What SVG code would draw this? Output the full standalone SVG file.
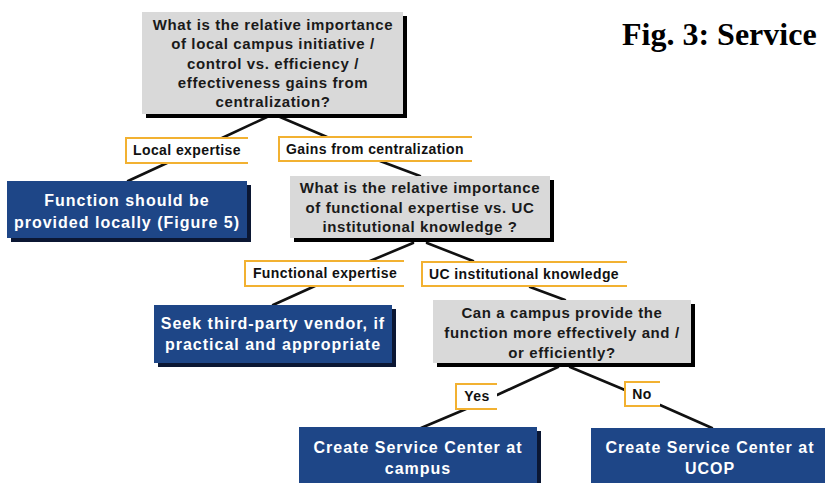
<svg xmlns="http://www.w3.org/2000/svg" width="825" height="483" viewBox="0 0 825 483">
<style>
.q{fill:#d9d9d9}
.qs{fill:#000}
.b{fill:#1e4687}
.bs{fill:#0b1733}
.qt{font-family:"Liberation Sans",Arial,sans-serif;font-weight:bold;font-size:15px;letter-spacing:0.6px;fill:#1a1a1a;text-anchor:middle}
.bt{font-family:"Liberation Sans",Arial,sans-serif;font-weight:bold;font-size:16px;letter-spacing:1px;fill:#ffffff;text-anchor:middle}
.lb{fill:#ffffff}
.lo{fill:none;stroke:#f2b131;stroke-width:2}
.lt{font-family:"Liberation Sans",Arial,sans-serif;font-weight:bold;font-size:14px;letter-spacing:0.4px;fill:#111;text-anchor:middle}
.c{stroke:#111;stroke-width:2.6;stroke-linecap:round;fill:none}
.title{font-family:"Liberation Serif","Times New Roman",serif;font-weight:bold;font-size:32px;fill:#000}
</style>
<rect width="825" height="483" fill="#ffffff"/>
<g id="connectors">
<line class="c" x1="267" y1="117" x2="222" y2="138"/>
<line class="c" x1="280" y1="117" x2="327" y2="137"/>
<line class="c" x1="167" y1="163" x2="128" y2="181"/>
<line class="c" x1="380" y1="161" x2="420" y2="176"/>
<line class="c" x1="413" y1="243" x2="370" y2="261"/>
<line class="c" x1="427" y1="243" x2="473" y2="261"/>
<line class="c" x1="315" y1="286" x2="273" y2="305"/>
<line class="c" x1="530" y1="287" x2="565" y2="300"/>
<line class="c" x1="558" y1="367" x2="497" y2="395"/>
<line class="c" x1="570" y1="367" x2="625" y2="390"/>
<line class="c" x1="466" y1="409" x2="421" y2="428"/>
<line class="c" x1="660" y1="405" x2="712" y2="428"/>
</g>
<g id="title"><text class="title" x="622" y="45">Fig. 3: Service</text></g>
<g id="q1">
<rect class="qs" x="146" y="16" width="261" height="102"/>
<rect class="q" x="142" y="12" width="261" height="102"/>
<text class="qt" x="273" y="30">What is the relative importance</text>
<text class="qt" x="273" y="49">of local campus initiative /</text>
<text class="qt" x="273" y="68.5">control vs. efficiency /</text>
<text class="qt" x="273" y="88">effectiveness gains from</text>
<text class="qt" x="273" y="107">centralization?</text>
</g>
<g id="l-local">
<rect class="lb" x="126" y="138" width="122" height="25"/>
<path class="lo" d="M248,138 H126 V163 H248"/>
<text class="lt" x="187" y="155">Local expertise</text>
</g>
<g id="l-gains">
<rect class="lb" x="279" y="137" width="193" height="24"/>
<path class="lo" d="M472,137 H279 V161 H472"/>
<text class="lt" x="375" y="154">Gains from centralization</text>
</g>
<g id="b-local">
<rect class="bs" x="11" y="185" width="240" height="57"/>
<rect class="b" x="7" y="181" width="240" height="57"/>
<text class="bt" x="127" y="206">Function should be</text>
<text class="bt" x="127" y="228">provided locally (Figure 5)</text>
</g>
<g id="q2">
<rect class="qs" x="294" y="180" width="260" height="62"/>
<rect class="q" x="290" y="176" width="260" height="62"/>
<text class="qt" x="420" y="193">What is the relative importance</text>
<text class="qt" x="420" y="213">of functional expertise vs. UC</text>
<text class="qt" x="420" y="232">institutional knowledge ?</text>
</g>
<g id="l-func">
<rect class="lb" x="245" y="261" width="159" height="25"/>
<path class="lo" d="M404,261 H245 V286 H404"/>
<text class="lt" x="325" y="278">Functional expertise</text>
</g>
<g id="l-uc">
<rect class="lb" x="422" y="262" width="205" height="24"/>
<path class="lo" d="M627,262 H422 V286 H627"/>
<text class="lt" x="524" y="279">UC institutional knowledge</text>
</g>
<g id="b-vendor">
<rect class="bs" x="158" y="309" width="238" height="58"/>
<rect class="b" x="154" y="305" width="238" height="58"/>
<text class="bt" x="273" y="329">Seek third-party vendor, if</text>
<text class="bt" x="273" y="350">practical and appropriate</text>
</g>
<g id="q3">
<rect class="qs" x="437" y="304" width="258" height="63"/>
<rect class="q" x="433" y="300" width="258" height="63"/>
<text class="qt" x="562" y="318">Can a campus provide the</text>
<text class="qt" x="562" y="338">function more effectively and /</text>
<text class="qt" x="562" y="358">or efficiently?</text>
</g>
<g id="l-yes">
<rect class="lb" x="456" y="384" width="41" height="25"/>
<path class="lo" d="M497,384 H456 V409 H497"/>
<text class="lt" x="477" y="401">Yes</text>
</g>
<g id="l-no">
<rect class="lb" x="625" y="382" width="35" height="24"/>
<path class="lo" d="M660,382 H625 V406 H660"/>
<text class="lt" x="642" y="399">No</text>
</g>
<g id="b-campus">
<rect class="bs" x="303" y="431" width="238" height="60"/>
<rect class="b" x="299" y="427" width="238" height="60"/>
<text class="bt" x="418" y="453">Create Service Center at</text>
<text class="bt" x="418" y="474">campus</text>
</g>
<g id="b-ucop">
<rect class="b" x="591" y="428" width="240" height="60"/>
<text class="bt" x="710" y="453">Create Service Center at</text>
<text class="bt" x="710" y="474">UCOP</text>
</g>
</svg>
